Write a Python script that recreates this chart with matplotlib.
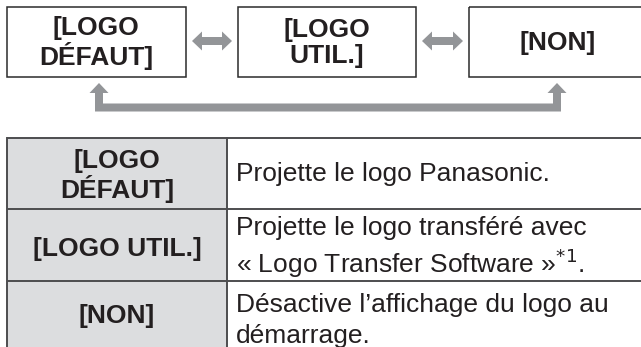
import matplotlib
matplotlib.use("Agg")
import matplotlib.pyplot as plt
from matplotlib.patches import Rectangle, Polygon
from matplotlib import font_manager

# diagram content
box_labels = ["[LOGO\nDÉFAUT]", "[LOGO\nUTIL.]", "[NON]"]
row_labels = ["[LOGO\nDÉFAUT]", "[LOGO UTIL.]", "[NON]"]
row_texts = [
    "Projette le logo Panasonic.",
    "Projette le logo transféré avec\n« Logo Transfer Software »$^{*1}$.",
    "Désactive l’affichage du logo au\ndémarrage.",
]

GREY_ARROW = "#939598"
CELL_FILL = "#dcdddf"
LINE = "#4d4d4f"
INK = "#231f20"

names = {f.name for f in font_manager.fontManager.ttflist}
narrow = "Liberation Sans Narrow" if "Liberation Sans Narrow" in names else "Liberation Sans"
fam = [narrow, "DejaVu Sans"]

fig = plt.figure(figsize=(6.41, 3.47), dpi=100)
ax = fig.add_axes([0, 0, 1, 1])
ax.set_xlim(0, 641)
ax.set_ylim(347, 0)
ax.axis("off")

# top boxes
box_x = [(7, 186), (238, 416), (469, 660)]
box_cx = [96, 327, 558]
for (x0, x1), xc, lab in zip(box_x, box_cx, box_labels):
    ax.add_patch(Rectangle((x0, 7), x1 - x0, 70, fill=False, ec="#2b2b2b", lw=1.1))
    ax.text(xc, 43, lab, ha="center", va="center", fontsize=19, fontweight="bold",
            family=fam, color=INK, linespacing=1.12)


def double_arrow(x0, x1, yc, shaft=8, head=19, hl=10):
    pts = [(x0, yc), (x0 + hl, yc - head / 2), (x0 + hl, yc - shaft / 2),
           (x1 - hl, yc - shaft / 2), (x1 - hl, yc - head / 2), (x1, yc),
           (x1 - hl, yc + head / 2), (x1 - hl, yc + shaft / 2),
           (x0 + hl, yc + shaft / 2), (x0 + hl, yc + head / 2)]
    ax.add_patch(Polygon(pts, closed=True, fc=GREY_ARROW, ec="none"))


double_arrow(192, 232, 41)
double_arrow(422, 463, 41)

# return loop
xl, xr, ytip, ybar = 99, 557, 83, 107.5
s, head, hl = 8, 19, 10
loop = [(xl, ytip), (xl + head / 2, ytip + hl), (xl + s / 2, ytip + hl),
        (xl + s / 2, ybar - s / 2), (xr - s / 2, ybar - s / 2),
        (xr - s / 2, ytip + hl), (xr - head / 2, ytip + hl), (xr, ytip),
        (xr + head / 2, ytip + hl), (xr + s / 2, ytip + hl),
        (xr + s / 2, ybar + s / 2), (xl - s / 2, ybar + s / 2),
        (xl - s / 2, ytip + hl), (xl - head / 2, ytip + hl)]
ax.add_patch(Polygon(loop, closed=True, fc=GREY_ARROW, ec="none"))

# table
tx0, tsplit, tx1 = 7, 227, 660
row_y = [138, 209, 281, 360]
label_y = [176, 249, 316]
text_top = [None, 216, 293]
text_ls = [None, 1.25, 1.38]
for i in range(3):
    y0, y1 = row_y[i], row_y[i + 1]
    ax.add_patch(Rectangle((tx0, y0), tsplit - tx0, y1 - y0, fc=CELL_FILL, ec="none"))
    ax.text((tx0 + tsplit) / 2, label_y[i], row_labels[i],
            ha="center", va="center", fontsize=19, fontweight="bold",
            family=fam, color=INK, linespacing=1.08)
    if i == 0:
        ax.text(236, (y0 + y1) / 2, row_texts[i], ha="left", va="center", fontsize=19,
                family=fam, color=INK)
    else:
        ax.text(236, text_top[i], row_texts[i], ha="left", va="top",
                fontsize=19, family=fam, color=INK, linespacing=text_ls[i])

for y in row_y[:3]:
    ax.plot([tx0, tx1], [y, y], color=LINE, lw=1.4, solid_capstyle="butt")
ax.plot([tx0, tx0], [row_y[0], 347], color=LINE, lw=1.4)
ax.plot([tsplit, tsplit], [row_y[0], 347], color=LINE, lw=1.4)

fig.savefig("out.png", dpi=100)
